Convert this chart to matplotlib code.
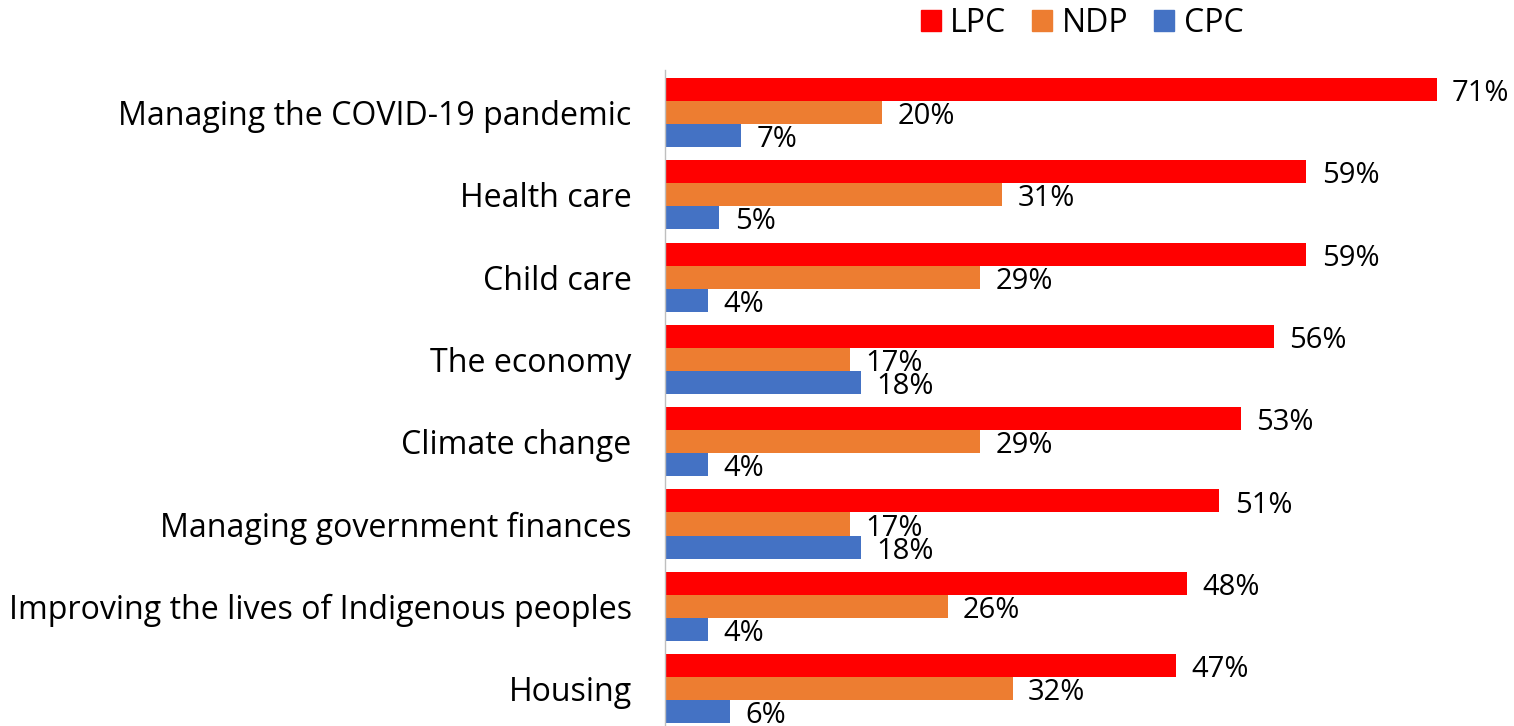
import matplotlib
matplotlib.use("Agg")
import matplotlib.pyplot as plt
from matplotlib.patches import Patch

categories = ["Managing the COVID-19 pandemic", "Health care", "Child care", "The economy",
              "Climate change", "Managing government finances",
              "Improving the lives of Indigenous peoples", "Housing"]
series_names = ["LPC", "NDP", "CPC"]
lpc = [71, 59, 59, 56, 53, 51, 48, 47]
ndp = [20, 31, 29, 17, 29, 17, 26, 32]
cpc = [7, 5, 4, 18, 4, 18, 4, 6]
colors = ["#FF0000", "#ED7D31", "#4472C4"]

plt.rcParams['font.family'] = ['Open Sans', 'DejaVu Sans']
fig = plt.figure(figsize=(15.14, 7.26), dpi=100)
ax = fig.add_axes([665/1514, 0, 1 - 665/1514, (726-70)/726])

h = 0.28
offsets = [-h, 0, h]
for vals, off, col, name in zip([lpc, ndp, cpc], offsets, colors, series_names):
    ys = [i + off for i in range(len(categories))]
    ax.barh(ys, vals, height=h, color=col, label=name)
    for y, v in zip(ys, vals):
        ax.annotate(f"{v}%", xy=(v, y), xytext=(11, -3), textcoords="offset points",
                    va="center", ha="left", fontsize=21, color="#000000")

ax.set_xlim(0, 78.1)
ax.set_ylim(7.454, -0.516)
ax.set_yticks(range(len(categories)))
ax.set_yticklabels(categories, fontsize=23.1)
ax.tick_params(axis='y', length=0, pad=24)
ax.set_xticks([])
for s in ["top", "right", "bottom"]:
    ax.spines[s].set_visible(False)
ax.spines["left"].set_color("#BFBFBF")
ax.spines["left"].set_linewidth(1)

handles = [Patch(color=c) for c in colors]
fig.legend(handles, series_names, loc="center", bbox_to_anchor=(1082/1514, 1 - 23/726),
           ncol=3, frameon=False, fontsize=23, handlelength=0.63, handleheight=0.63,
           handletextpad=0.3, columnspacing=0.8, borderpad=0, borderaxespad=0)

fig.savefig("out.png", dpi=100)
